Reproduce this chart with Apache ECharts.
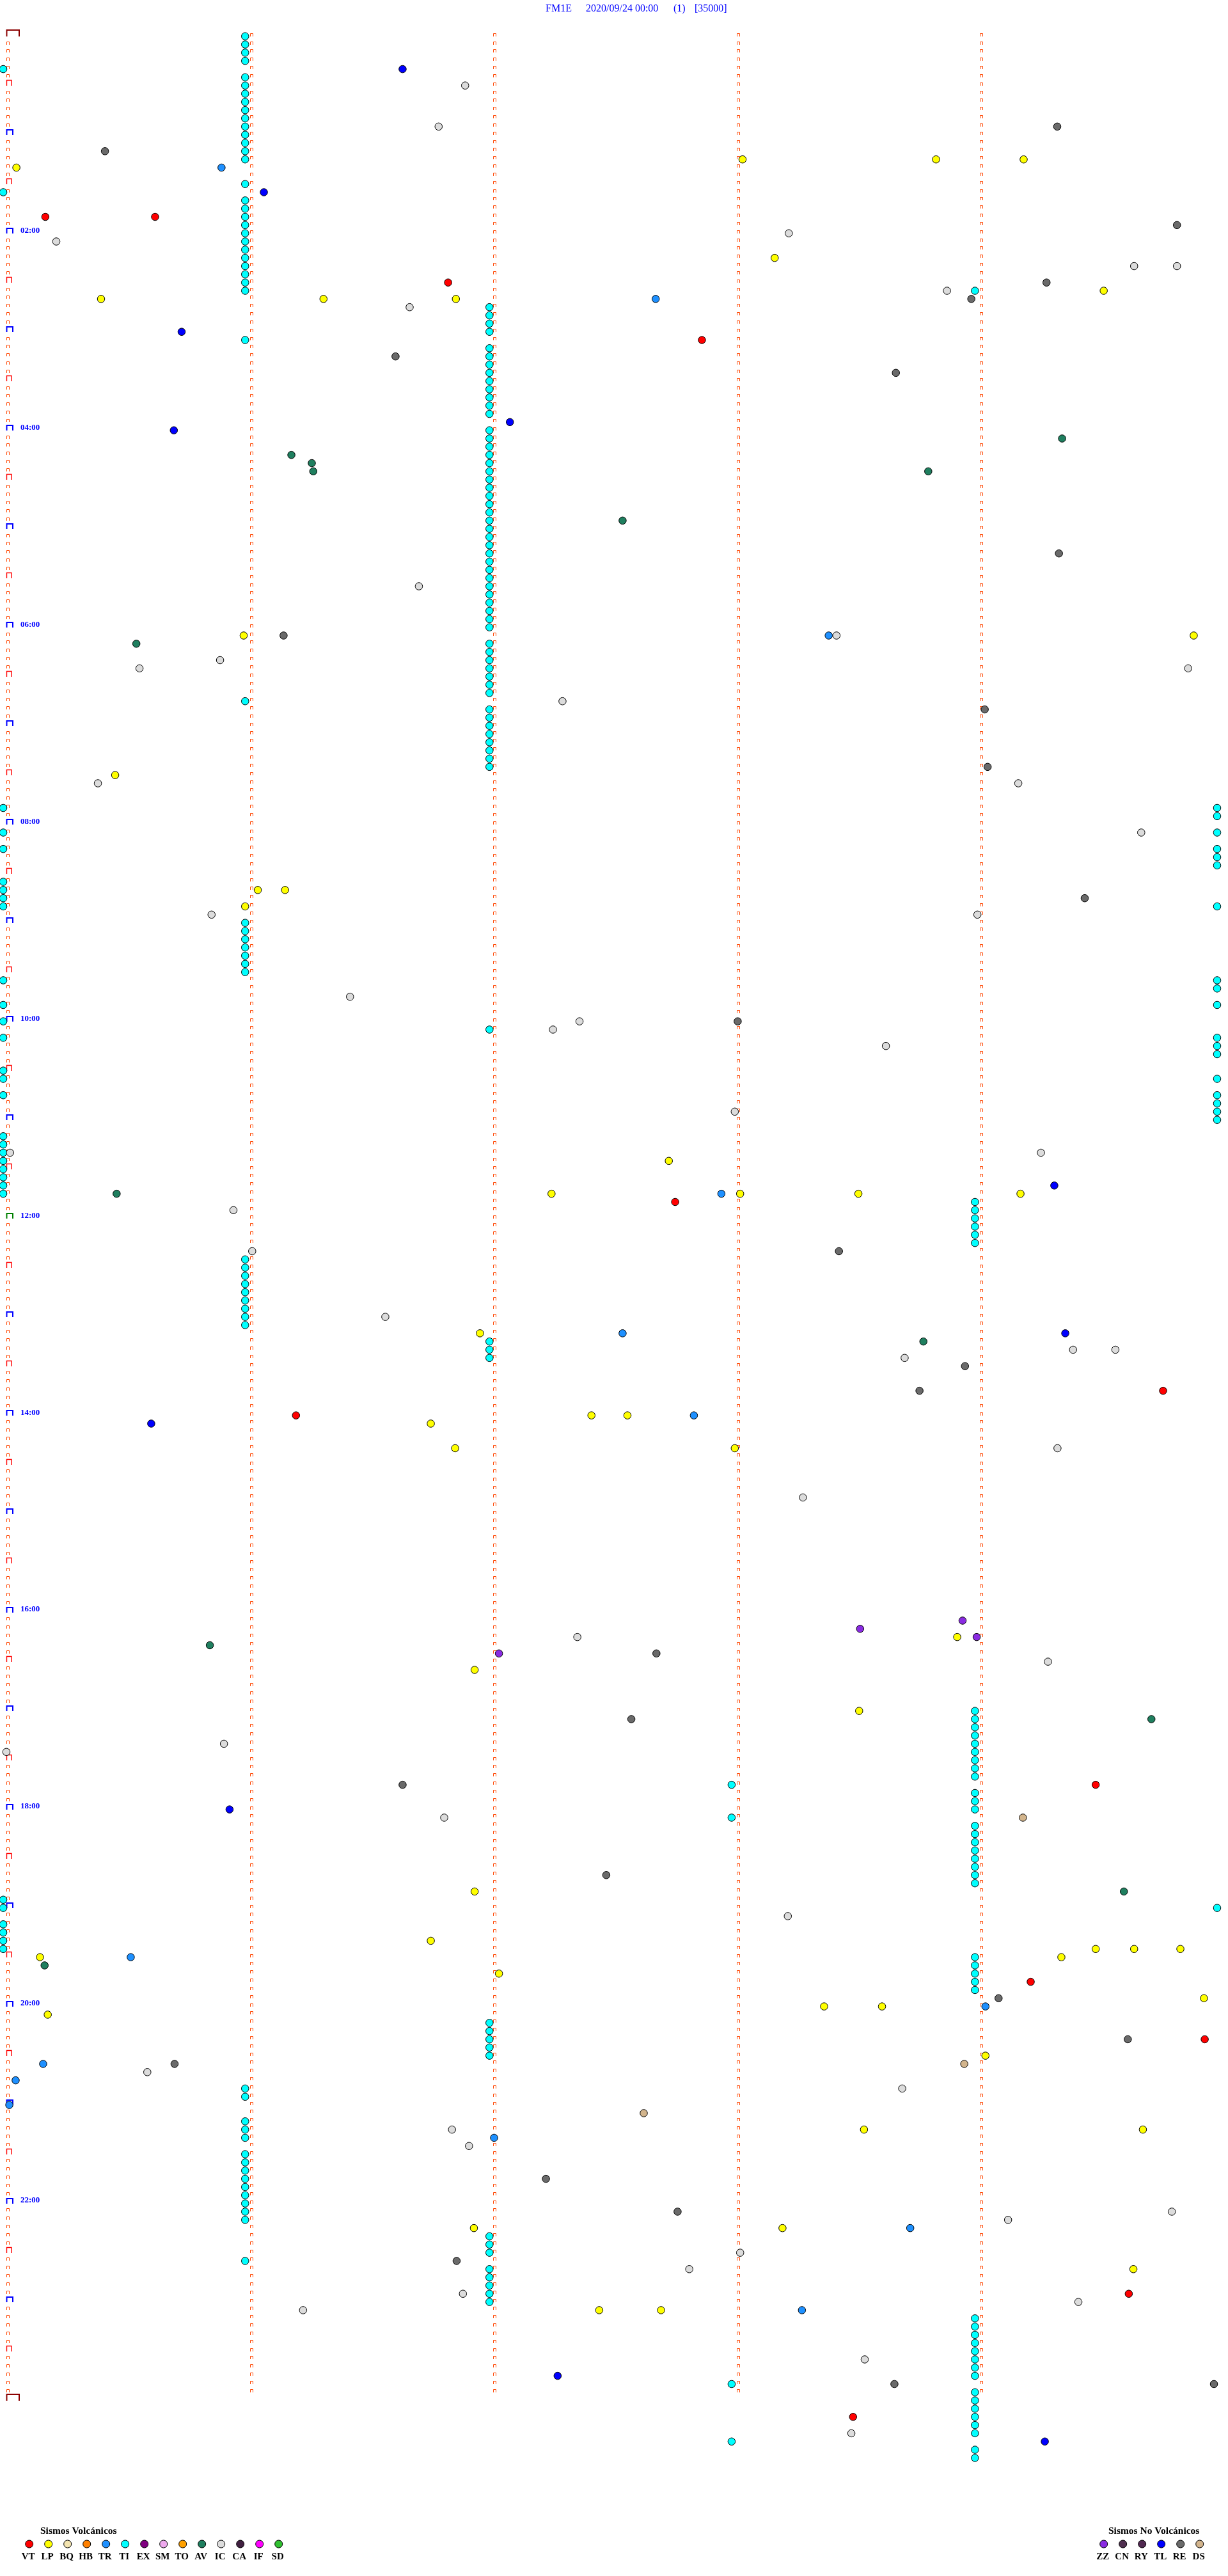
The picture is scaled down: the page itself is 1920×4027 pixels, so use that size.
<!DOCTYPE html>
<html><head><meta charset="utf-8">
<script src="https://cdn.jsdelivr.net/npm/echarts@6/dist/echarts.min.js"></script>
<style>html,body{margin:0;padding:0;background:#fff}#c{width:1920px;height:4027px}</style>
</head><body><div id="c"></div>
<script>
// ---------- data ----------
const titleParts = ['FM1E', '2020/09/24 00:00', '(1)', '[35000]'];
const hourLabels = ['02:00','04:00','06:00','08:00','10:00','12:00','14:00','16:00','18:00','20:00','22:00'];
const rowsPerDay = 288;          // one row = 5 minutes
const minuteColumns = [0, 1, 2, 3, 4];

// events: [row (5-min row index from 00:00), minute inside the row]
const VT = [[22,0.16],[22,0.611],[30,1.815],[37,2.858],[142,2.748],[165,4.753],[168,1.19],[213,4.476],[237,4.209],[244,4.924],[275,4.612],[290,3.479]];
const LP = [[15,3.025],[15,3.82],[15,4.18],[16,0.041],[27,3.157],[31,4.509],[32,0.389],[32,1.303],[32,1.847],[73,0.975],[73,4.879],[90,0.447],[104,1.033],[104,1.145],[106,0.981],[137,2.722],[141,2.24],[141,3.015],[141,3.501],[141,4.167],[158,1.946],[168,2.404],[168,2.552],[169,1.744],[172,1.844],[172,2.993],[195,3.907],[199,1.924],[204,3.504],[226,1.924],[232,1.744],[233,4.476],[233,4.634],[233,4.824],[234,0.138],[234,4.335],[236,2.024],[239,4.921],[240,3.36],[240,3.598],[241,0.17],[246,4.023],[255,3.524],[255,4.67],[267,1.921],[267,3.189],[272,4.631],[277,2.436],[277,2.69]];
const TR = [[16,0.884],[32,2.668],[73,3.379],[141,2.938],[158,2.532],[168,2.825],[234,0.511],[240,4.023],[247,0.151],[249,0.038],[252,0.012],[256,2.004],[267,3.714],[277,3.269]];
const AV = [[49,4.338],[51,1.171],[52,1.255],[53,1.261],[53,3.788],[59,2.532],[74,0.534],[141,0.453],[159,3.768],[196,0.836],[205,4.705],[226,4.592],[235,0.157]];
const IC = [[6,1.885],[11,1.776],[24,3.215],[25,0.205],[28,4.634],[28,4.81],[31,3.865],[33,1.657],[67,1.695],[73,3.411],[76,0.878],[77,0.547],[77,4.856],[81,2.285],[91,0.376],[91,4.158],[97,4.663],[107,0.843],[107,3.99],[117,1.412],[120,2.355],[121,2.246],[123,3.614],[131,2.993],[136,0.015],[136,4.251],[143,0.933],[148,1.01],[156,1.557],[160,4.383],[160,4.557],[161,3.691],[172,4.319],[178,3.273],[195,2.346],[198,4.28],[208,0.894],[209,0],[217,1.799],[229,3.211],[248,0.579],[250,3.681],[255,1.831],[257,1.901],[265,4.789],[266,4.116],[270,3.015],[272,2.806],[275,1.876],[276,4.405],[277,1.219],[283,3.527],[292,3.472]];
const RE = [[11,4.318],[14,0.405],[23,4.81],[30,4.274],[32,3.965],[39,1.599],[41,3.655],[63,4.325],[73,1.139],[82,4.02],[89,4.032],[105,4.431],[120,3.005],[148,3.421],[162,3.939],[165,3.752],[197,2.671],[205,2.568],[213,1.628],[224,2.465],[239,4.077],[244,4.608],[247,0.691],[261,2.217],[265,2.758],[271,1.85],[286,3.649],[286,4.962]];
const TL = [[4,1.628],[19,1.058],[36,0.72],[47,2.069],[48,0.688],[140,4.306],[158,4.351],[169,0.595],[216,0.917],[285,2.265],[293,4.267]];
const ZZ = [[193,3.929],[194,3.508],[195,3.987],[197,2.024]];
const DS = [[217,4.177],[247,3.936],[253,2.619]];

// TI events: rows in which a TI event sits at a given minute position
const tiMinuteA = -0.013;
const tiRowsA = [4,19,94,97,99,103,104,105,106,115,118,120,122,126,127,129,134,135,136,137,138,139,140,141,227,228,230,231,232,233];
const tiMinuteB = 0.981;
const tiRowsB = [0,1,2,3,5,6,7,8,9,10,11,12,13,14,15,18,20,21,22,23,24,25,26,27,28,29,30,31,37,81,108,109,110,111,112,113,114,149,150,151,152,153,154,155,156,157,250,251,254,255,256,258,259,260,261,262,263,264,265,266,271];
const tiMinuteC = 1.985;
const tiRowsC = [33,34,35,36,38,39,40,41,42,43,44,45,46,48,49,50,51,52,53,54,55,56,57,58,59,60,61,62,63,64,65,66,67,68,69,70,71,72,74,75,76,77,78,79,80,82,83,84,85,86,87,88,89,121,159,160,161,242,243,244,245,246,268,269,270,272,273,274,275,276];
const tiMinuteD = 2.98;
const tiRowsD = [213,217,286,293];
const tiMinuteE = 3.98;
const tiRowsE = [31,142,143,144,145,146,147,204,205,206,207,208,209,210,211,212,214,215,216,218,219,220,221,222,223,224,225,234,235,236,237,238,278,279,280,281,282,283,284,285,287,288,289,290,291,292,294,295];
const tiMinuteF = 4.975;
const tiRowsF = [94,95,97,99,100,101,106,115,116,118,122,123,124,127,129,130,131,132,228];

const volcNames  = ['VT','LP','BQ','HB','TR','TI','EX','SM','TO','AV','IC','CA','IF','SD'];
const volcColors = ['#ff0000','#ffff00','#f3e4b0','#ff8000','#1e90ff','#00ffff','#800080','#eeaaee','#ffa000','#1f7f5f','#dcdcdc','#402040','#ff00ff','#30c030'];
const noVolcNames  = ['ZZ','CN','RY','TL','RE','DS'];
const noVolcColors = ['#8a2be2','#503050','#502850','#0000ff','#6a6a6a','#d2b48c'];

// ---------- layout ----------
const W = 1920, H = 4027;
const X0 = 10, PX_PER_MIN = 380.5;
const Y0 = 56.7, ROW_H = 12.833;
const titleX = [853, 916, 1053, 1086];

const colorOf = n => { let i = volcNames.indexOf(n); if (i >= 0) return volcColors[i]; return noVolcColors[noVolcNames.indexOf(n)]; };
const toXY = arr => arr.map(d => [d[1], d[0]]);

const tiData = [];
[[tiMinuteA,tiRowsA],[tiMinuteB,tiRowsB],[tiMinuteC,tiRowsC],[tiMinuteD,tiRowsD],[tiMinuteE,tiRowsE],[tiMinuteF,tiRowsF]]
  .forEach(([m, rows]) => rows.forEach(r => tiData.push([m, r])));

// marker grid (minute ticks of each row)
const markerData = [];
for (let r = 0; r < rowsPerDay; r++) {
  minuteColumns.forEach(c => {
    let kind = 0;
    if (c === 0) {
      if (r === 0) kind = 3;
      else if (r === 144) kind = 4;
      else if (r % 12 === 0) kind = 2;
      else if (r % 6 === 0) kind = 1;
    }
    markerData.push([c, r, kind]);
  });
}
markerData.push([0, rowsPerDay, 3]);

const labelData = hourLabels.map(l => [0, parseInt(l, 10) * 12, l]);

function renderMarker(params, api) {
  const p = api.coord([api.value(0), api.value(1)]);
  const kind = api.value(2);
  const x = Math.round(p[0]), y = Math.round(p[1]);
  let pts, color, lw;
  if (kind === 0) { pts = [[x+0.5, y], [x+0.5, y-4.5], [x+4.5, y-4.5], [x+4.5, y]]; color = '#ff4500'; lw = 1; }
  else if (kind === 1) { pts = [[x+0.5, y], [x+0.5, y-8.5], [x+8, y-8.5], [x+8, y]]; color = '#ff0000'; lw = 1.4; }
  else if (kind === 2 || kind === 4) { pts = [[x+0.5, y], [x+0.5, y-8], [x+10, y-8], [x+10, y]]; color = kind === 2 ? '#0000ff' : '#008000'; lw = 2; }
  else { pts = [[x+0.5, y], [x+0.5, y-10], [x+20, y-10], [x+20, y]]; color = '#8b0000'; lw = 2; }
  return { type: 'polyline', shape: { points: pts }, style: { stroke: color, lineWidth: lw, fill: null } };
}
function renderLabel(params, api) {
  const p = api.coord([api.value(0), api.value(1)]);
  return { type: 'text', x: p[0] + 22, y: p[1] - 4.5,
    style: { text: labelData[params.dataIndex][2], fill: '#0000ff', font: 'bold 13px "Liberation Serif"', align: 'left', verticalAlign: 'middle' } };
}

function scatter(name, arr) {
  return { name, type: 'scatter', data: toXY(arr), symbol: 'circle', symbolSize: 11.5, clip: false, z: 3,
    itemStyle: { color: colorOf(name), borderColor: '#000', borderWidth: 1, opacity: 1 }, silent: true };
}

// title + legend graphics
const graphics = [];
titleParts.forEach((t, i) => {
  graphics.push({ type: 'text', x: titleX[i], y: 13.5, style: { text: t, font: '16px "Liberation Serif"', fill: '#0000ff', align: 'left', verticalAlign: 'middle' } });
});
graphics.push({ type: 'text', x: 63, y: 3957, style: { text: 'Sismos Volcánicos', font: 'bold 15.5px "Liberation Serif"', fill: '#000', align: 'left', verticalAlign: 'middle' } });
volcNames.forEach((n, i) => {
  const cx = 45.7 + 30 * i;
  graphics.push({ type: 'circle', shape: { cx, cy: 3977, r: 6 }, style: { fill: volcColors[i], stroke: '#000', lineWidth: 1 } });
  graphics.push({ type: 'text', x: cx - 1.5, y: 3997, style: { text: n, font: 'bold 15px "Liberation Serif"', fill: '#000', align: 'center', verticalAlign: 'middle' } });
});
graphics.push({ type: 'text', x: 1733, y: 3957, style: { text: 'Sismos No Volcánicos', font: 'bold 15.5px "Liberation Serif"', fill: '#000', align: 'left', verticalAlign: 'middle' } });
noVolcNames.forEach((n, i) => {
  const cx = 1725.7 + 30 * i;
  graphics.push({ type: 'circle', shape: { cx, cy: 3977, r: 6 }, style: { fill: noVolcColors[i], stroke: '#000', lineWidth: 1 } });
  graphics.push({ type: 'text', x: cx - 1.5, y: 3997, style: { text: n, font: 'bold 15px "Liberation Serif"', fill: '#000', align: 'center', verticalAlign: 'middle' } });
});

const chart = echarts.init(document.getElementById('c'), null, { renderer: 'canvas', width: W, height: H });
chart.setOption({
  animation: false,
  backgroundColor: '#ffffff',
  grid: { left: 0, right: 0, top: 0, bottom: 0 },
  xAxis: { type: 'value', min: -X0 / PX_PER_MIN, max: (W - X0) / PX_PER_MIN, show: false },
  yAxis: { type: 'value', inverse: true, min: -Y0 / ROW_H, max: (H - Y0) / ROW_H, show: false },
  graphic: graphics,
  series: [
    { type: 'custom', data: markerData, renderItem: renderMarker, clip: false, z: 1, silent: true },
    { type: 'custom', data: labelData.map(d => [d[0], d[1]]), renderItem: renderLabel, clip: false, z: 2, silent: true },
    scatter('TI', tiData.map(d => [d[1], d[0]])),
    scatter('IC', IC), scatter('RE', RE), scatter('LP', LP), scatter('TR', TR), scatter('AV', AV),
    scatter('VT', VT), scatter('TL', TL), scatter('ZZ', ZZ), scatter('DS', DS)
  ]
});
</script></body></html>
